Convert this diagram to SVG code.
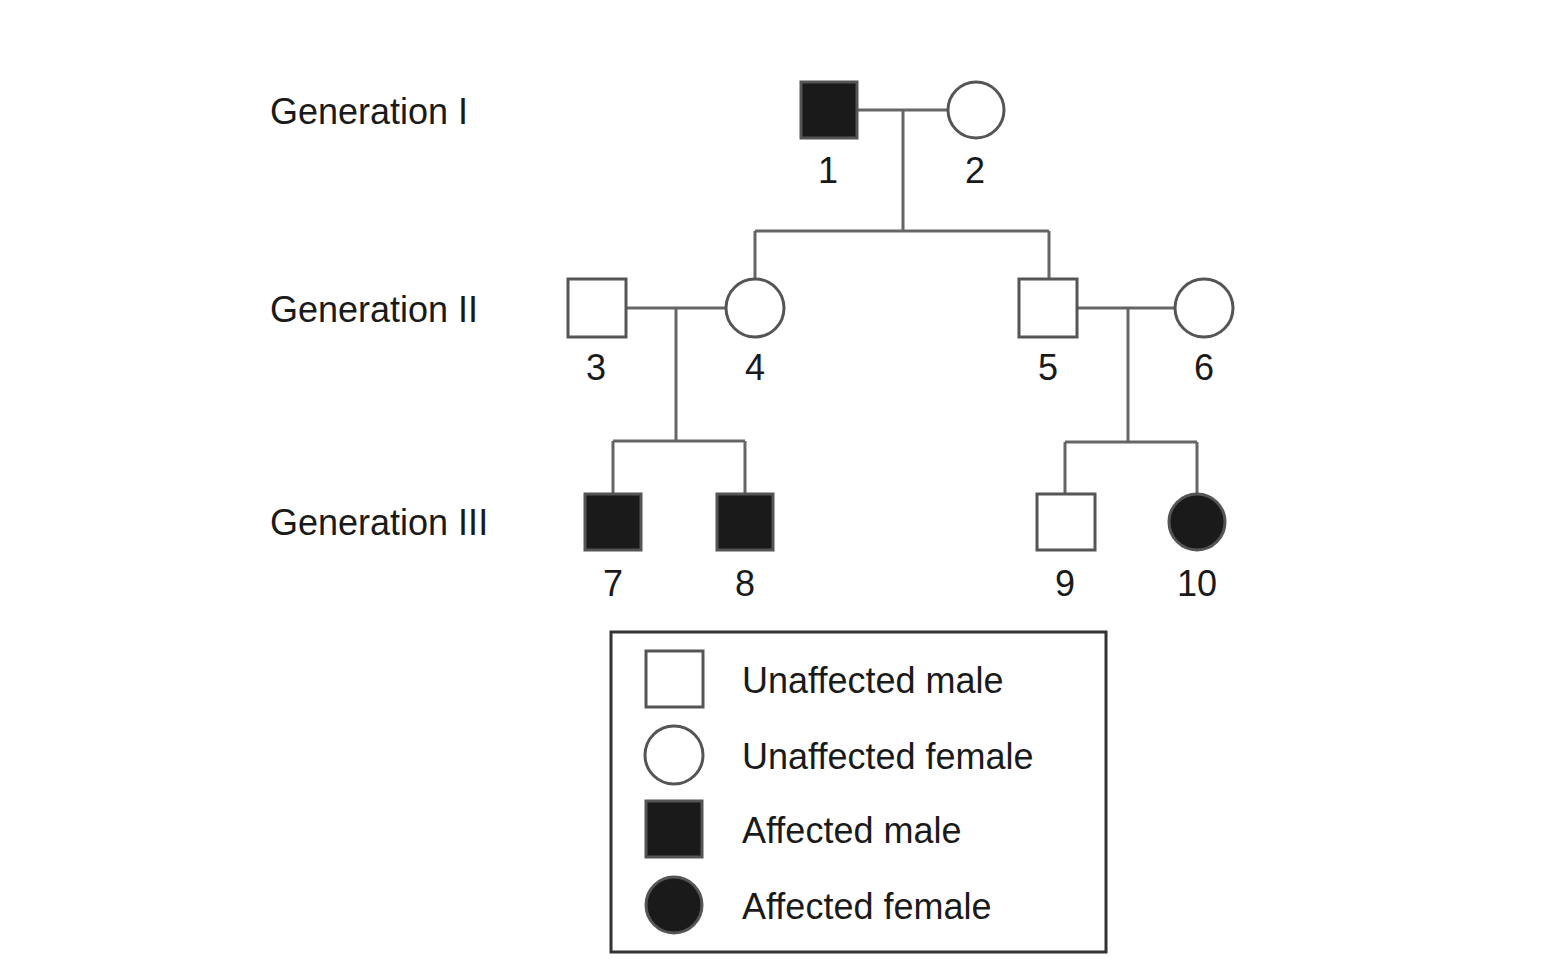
<svg xmlns="http://www.w3.org/2000/svg" width="1547" height="975" viewBox="0 0 1547 975">
<style>
text{font-family:"Liberation Sans",Arial,sans-serif;font-size:36px;fill:#1a1a1a}
.n{text-anchor:middle}
.u{fill:#fff;stroke:#555;stroke-width:3}
.a{fill:#1a1a1a;stroke:#555;stroke-width:3}
.c{fill:none;stroke:#666;stroke-width:3}
</style>
<rect width="1547" height="975" fill="#fff"/>
<text x="270" y="124">Generation I</text>
<text x="270" y="322">Generation II</text>
<text x="270" y="535">Generation III</text>
<g id="connectors">
<path class="c" d="M857 110H948M903 110V231M755 231H1049M755 231V280M1049 231V279"/>
<path class="c" d="M626 308H726M676 308V441M613 441H745M613 441V494M745 441V494"/>
<path class="c" d="M1077 308H1175M1128 308V442M1065 442H1197M1065 442V494M1197 442V494"/>
</g>
<g id="n1"><rect class="a" x="801" y="82" width="56" height="56"/><text class="n" x="828" y="183">1</text></g>
<g id="n2"><circle class="u" cx="976" cy="110" r="28"/><text class="n" x="975" y="183">2</text></g>
<g id="n3"><rect class="u" x="568" y="279" width="58" height="58"/><text class="n" x="596" y="380">3</text></g>
<g id="n4"><circle class="u" cx="755" cy="308" r="29"/><text class="n" x="755" y="380">4</text></g>
<g id="n5"><rect class="u" x="1019" y="279" width="58" height="58"/><text class="n" x="1048" y="380">5</text></g>
<g id="n6"><circle class="u" cx="1204" cy="308" r="29"/><text class="n" x="1204" y="380">6</text></g>
<g id="n7"><rect class="a" x="585" y="494" width="56" height="56"/><text class="n" x="613" y="596">7</text></g>
<g id="n8"><rect class="a" x="717" y="494" width="56" height="56"/><text class="n" x="745" y="596">8</text></g>
<g id="n9"><rect class="u" x="1037" y="494" width="58" height="56"/><text class="n" x="1065" y="596">9</text></g>
<g id="n10"><circle class="a" cx="1197" cy="522" r="28"/><text class="n" x="1197" y="596">10</text></g>
<g id="legend">
<rect x="611" y="632" width="495" height="320" fill="#fff" stroke="#333" stroke-width="3"/>
<rect class="u" x="646" y="651" width="57" height="56"/><text x="742" y="693">Unaffected male</text>
<circle class="u" cx="674" cy="755" r="29"/><text x="742" y="769">Unaffected female</text>
<rect class="a" x="646" y="801" width="56" height="56"/><text x="742" y="843">Affected male</text>
<circle class="a" cx="674" cy="905" r="28"/><text x="742" y="919">Affected female</text>
</g>
</svg>
